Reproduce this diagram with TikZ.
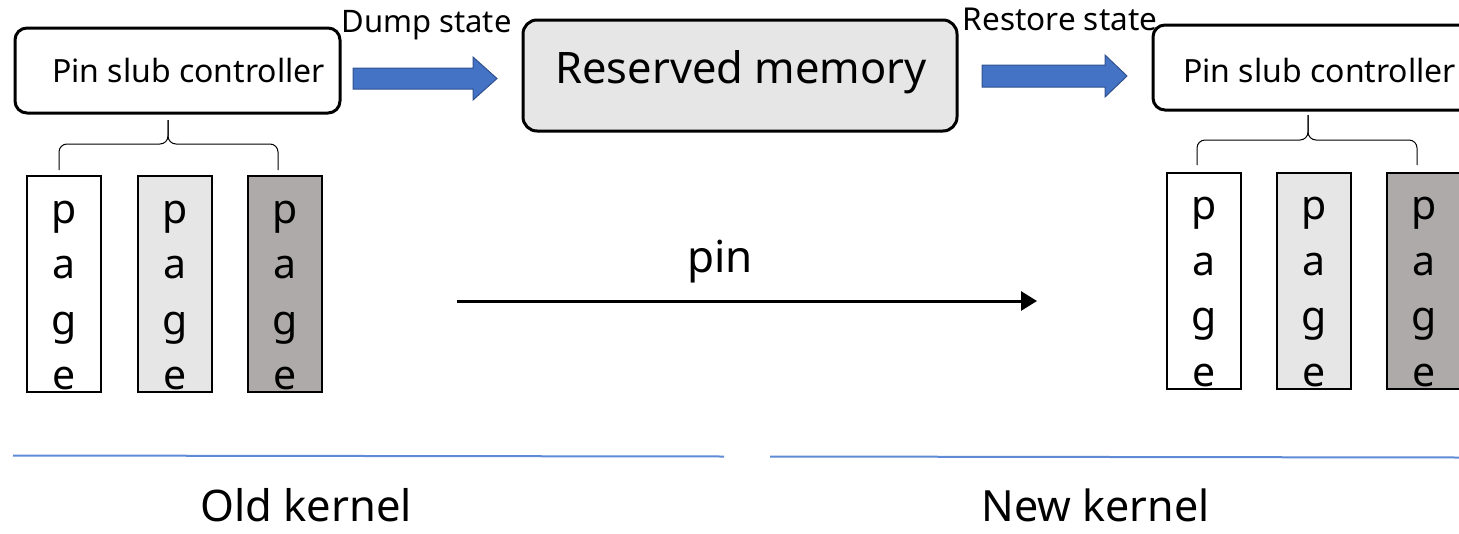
\documentclass[tikz,border=0pt]{standalone}
\usepackage{fontspec}
\setmainfont{Noto Sans}
\usetikzlibrary{arrows.meta}
\definecolor{lgray}{HTML}{E7E6E6}
\definecolor{dgray}{HTML}{AEAAAA}
\definecolor{barrow}{HTML}{4472C4}
\definecolor{barrowd}{HTML}{2F528F}
\definecolor{sepblue}{HTML}{5F8AD6}
\begin{document}
\begin{tikzpicture}[x=1pt,y=-1pt,
  ctrl/.style={draw, line width=3pt, rounded corners=12pt, minimum width=325pt, minimum height=85pt, inner sep=0pt},
  membox/.style={draw, line width=3pt, rounded corners=14pt, fill=lgray, minimum width=434pt, minimum height=111pt, inner sep=0pt},
  pagebox/.style={draw, line width=2pt, minimum width=74pt, minimum height=216pt, inner sep=0pt},
  lbl/.style={inner sep=0pt, anchor=base},
  pl/.style={lbl, font=\fontsize{41}{41}\selectfont},
  brace/.style={line width=1pt, rounded corners=8pt},
  blockarrow/.style={fill=barrow, draw=barrowd, line width=1pt},
  sep/.style={draw=sepblue, line width=2pt}
]
\path[use as bounding box] (0,0) rectangle (1459,533);
\clip (0,0) rectangle (1459,533);
% left controller
\node[ctrl] (lctrl) at (177.5,70.5) {};
\node[lbl, font=\fontsize{32}{32}\selectfont] (lctrlt) at (188.5,82) {Pin slub controller};
% dump state
\node[lbl, font=\fontsize{31}{31}\selectfont] (dump) at (426.5,32) {Dump state};
\coordinate (a1) at (353,78.5);
\draw[blockarrow] (a1) -- ++(0,-10.5) -- ++(120,0) -- ++(0,-11) -- ++(24,21.5) -- ++(-24,21.5) -- ++(0,-11) -- ++(-120,0) -- cycle;
% reserved memory
\node[membox] (mem) at (740,75.5) {};
\node[lbl, font=\fontsize{43.4}{43.4}\selectfont] (memt) at (741,83) {Reserved memory};
% restore state
\node[lbl, font=\fontsize{31.5}{31.5}\selectfont] (restore) at (1060,30) {Restore state};
\coordinate (a2) at (982,76);
\draw[blockarrow] (a2) -- ++(0,-11) -- ++(123,0) -- ++(0,-10) -- ++(22,21) -- ++(-22,21) -- ++(0,-10) -- ++(-123,0) -- cycle;
% right controller
\node[ctrl] (rctrl) at (1315.5,67.5) {};
\node[lbl, anchor=base west, font=\fontsize{32}{32}\selectfont] (rctrlt) at (1183,82) {Pin slub controller};
% braces
\draw[brace] (59,170) -- (59,144) -- (168,144) -- (168,120);
\draw[brace] (278,170) -- (278,144) -- (168,144) -- (168,120);
\draw[brace] (1197,165) -- (1197,140) -- (1308,140) -- (1308,115);
\draw[brace] (1417,165) -- (1417,140) -- (1308,140) -- (1308,115);
% left pages
\node[pagebox] (lp1) at (64,284) {};
\node[pagebox, fill=lgray] (lp2) at (175,284) {};
\node[pagebox, fill=dgray] (lp3) at (285,284) {};
% right pages
\node[pagebox] (rp1) at (1204,280.5) {};
\node[pagebox, fill=lgray] (rp2) at (1314,280.5) {};
\node[pagebox, fill=dgray] (rp3) at (1424,280.5) {};
\foreach \b/\x/\y in {lp1/64/223, lp2/175/223, lp3/285/223, rp1/1204/219.5, rp2/1314/219.5, rp3/1424/219.5} {
  \foreach \c [count=\i] in {p,a,g,e} {
    \node[pl] (\b-\i) at (\x, {\y+55.5*(\i-1)}) {\c};
  }
}
% pin arrow
\coordinate (pinL) at (457,301);
\coordinate (pinR) at (1037,301);
\draw[line width=3pt, -{Triangle[length=16pt,width=19pt]}] (pinL) -- (pinR);
\node[lbl, font=\fontsize{44}{44}\selectfont] (pin) at (720,272) {pin};
% separators
\coordinate (s1a) at (13,455.5);
\coordinate (s1b) at (724,456.5);
\coordinate (s2a) at (770,456.5);
\coordinate (s2b) at (1459,457.5);
\draw[sep] (s1a) -- (s1b);
\draw[sep] (s2a) -- (s2b);
% kernel labels
\node[lbl, font=\fontsize{43.5}{43.5}\selectfont] (old) at (306,521) {Old kernel};
\node[lbl, font=\fontsize{43}{43}\selectfont] (new) at (1095.5,521) {New kernel};
\end{tikzpicture}
\end{document}
